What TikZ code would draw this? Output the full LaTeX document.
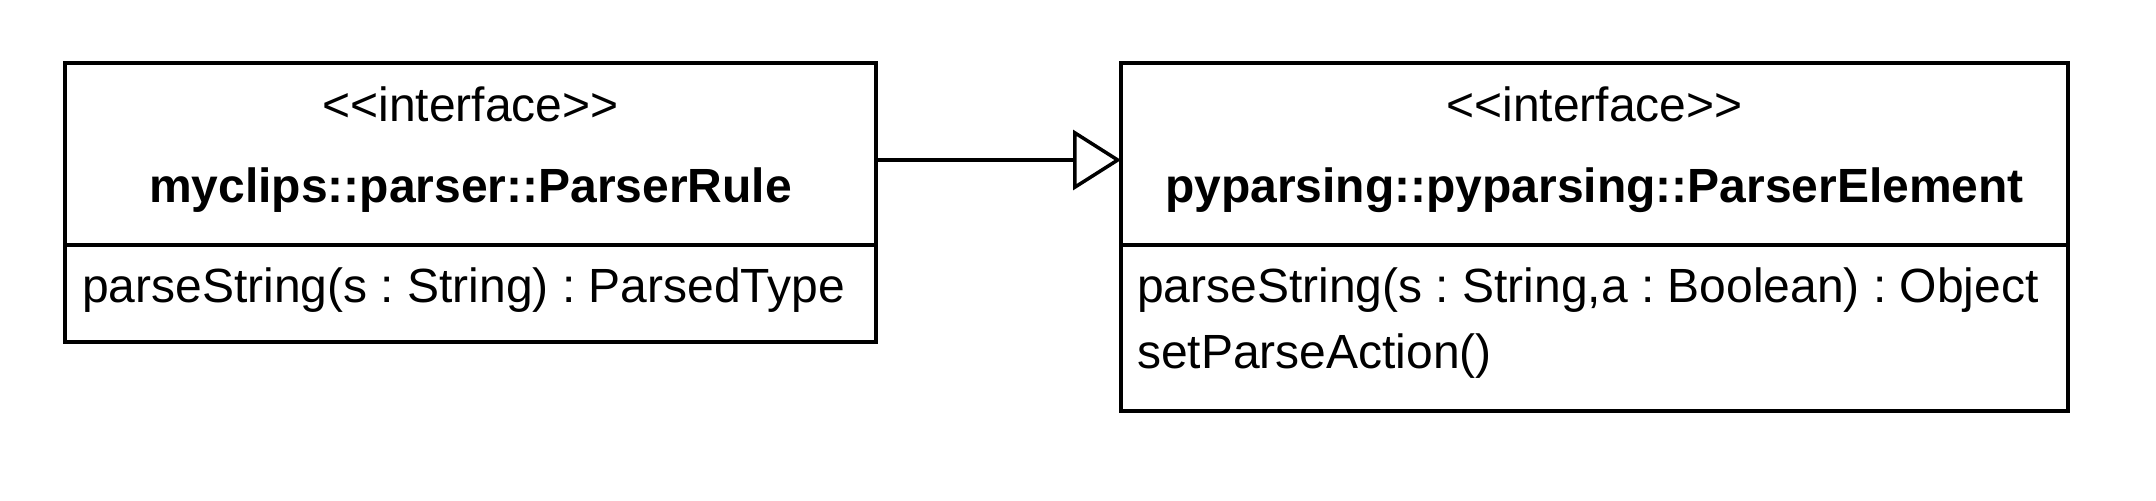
\documentclass[tikz,border=0pt]{standalone}
\usepackage{fontspec}
\setmainfont{Liberation Sans}
\usetikzlibrary{arrows.meta}
\newcommand{\stereo}[1]{<\kern0pt<#1>\kern0pt>}
\begin{document}
\frenchspacing
\begin{tikzpicture}[x=0.5pt,y=-0.5pt,
  cls/.style={draw,line width=2pt,inner sep=0pt,outer sep=0pt,anchor=north west},
  txt/.style={inner sep=0pt,outer sep=0pt,font=\fontsize{24pt}{28pt}\selectfont},
  ster/.style={txt,anchor=base},
  cname/.style={txt,anchor=base,font=\fontsize{24pt}{28pt}\selectfont\bfseries},
  attr/.style={txt,anchor=base west},
  divider/.style={line width=2pt},
  realize/.style={line width=1.75pt,-{Triangle[open,length=24pt,width=30pt,line width=1.75pt]}}]
\useasboundingbox (0,0) rectangle (2156,500);
% left class
\node[cls,minimum width=405.5pt,minimum height=139.5pt] (L) at (65,63) {};
\node[ster] (Ls) at (470.5,121) {\stereo{interface}};
\node[cname] (Ln) at (470.5,202) {myclips::parser::ParserRule};
\draw[divider] (65,245) -- (876,245);
\node[attr] (La1) at (82,302) {parseString(s : String) : ParsedType};
% right class
\node[cls,minimum width=473.5pt,minimum height=174pt] (R) at (1121,63) {};
\node[ster] (Rs) at (1594.5,121) {\stereo{interface}};
\node[cname] (Rn) at (1594.5,202) {pyparsing::pyparsing::ParserElement};
\draw[divider] (1121,245) -- (2068,245);
\node[attr] (Ra1) at (1137,302) {parseString(s : String,a : Boolean) : Object};
\node[attr] (Ra2) at (1137,368) {setParseAction()};
% realization
\draw[realize] ([yshift=-48.5pt]L.north east) -- ([yshift=-48.5pt]R.north west);
\end{tikzpicture}
\end{document}
